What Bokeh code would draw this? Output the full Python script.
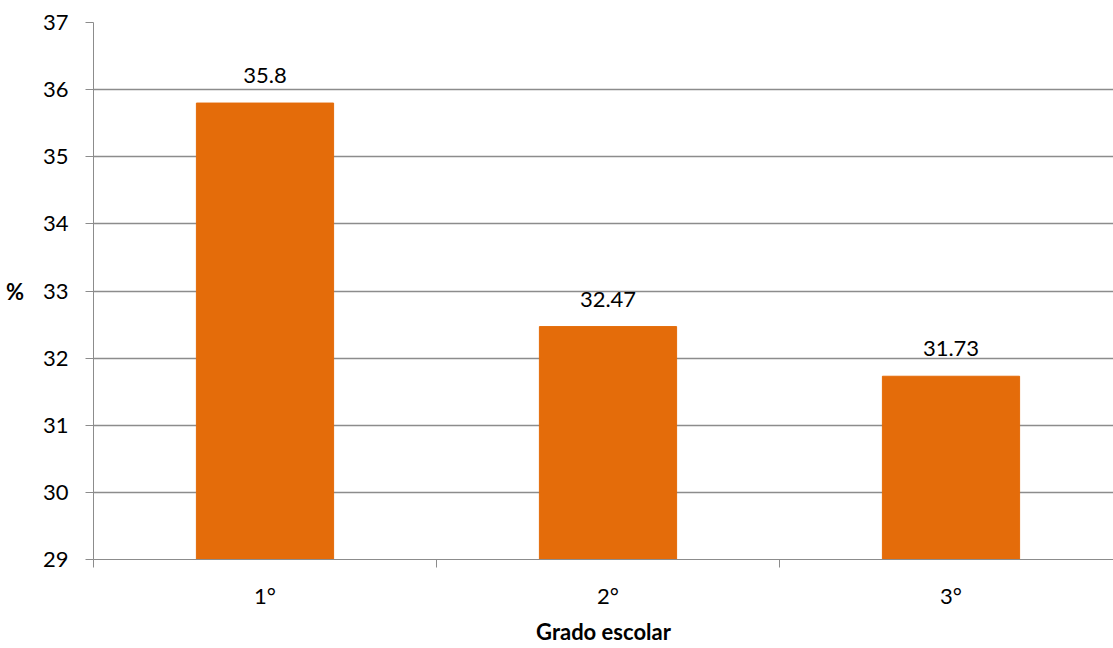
from bokeh.plotting import figure
from bokeh.models import Range1d, FixedTicker, ColumnDataSource, LabelSet
from bokeh.core.properties import value
from bokeh.embed import file_html
from bokeh.resources import INLINE

categories = ["1°", "2°", "3°"]
values = [35.8, 32.47, 31.73]
value_labels = ["35.8", "32.47", "31.73"]
y_ticks = [29, 30, 31, 32, 33, 34, 35, 36, 37]

FONT = "Lato"
FS = "22px"
GRID = "#8c8c8c"
BAR = "#e46c0a"

xpos = [i + 0.5 for i in range(len(categories))]
src = ColumnDataSource(dict(x=xpos, top=values, lab=value_labels))

p = figure(width=1113, height=648, output_backend="svg", toolbar_location=None,
           x_range=Range1d(0, 1020 / 343), y_range=Range1d(29, 37),
           min_border_left=93, min_border_top=22, min_border_bottom=89, min_border_right=0)
p.outline_line_color = None
p.background_fill_color = "white"
p.border_fill_color = "white"

p.vbar(x="x", top="top", bottom=29, width=0.4, color=BAR, source=src)
p.add_layout(LabelSet(x="x", y="top", text="lab", source=src, text_align="center",
                      text_baseline="alphabetic", y_offset=20, text_font=value(FONT),
                      text_font_size=value(FS), text_color="#000000"))

# y axis
p.yaxis.ticker = FixedTicker(ticks=y_ticks)
p.yaxis.axis_line_color = GRID
p.yaxis.major_tick_line_color = GRID
p.yaxis.major_tick_in = 0
p.yaxis.major_tick_out = 8
p.yaxis.minor_tick_line_color = None
p.yaxis.major_label_standoff = 17
p.yaxis.major_label_text_font = FONT
p.yaxis.major_label_text_font_size = FS
p.yaxis.major_label_text_color = "#000000"
p.yaxis.axis_label = "%"
p.yaxis.axis_label_text_font = FONT
p.yaxis.axis_label_text_font_style = "bold"
p.yaxis.axis_label_text_font_size = FS
p.yaxis.axis_label_text_color = "#000000"
p.yaxis.axis_label_standoff = 16
if "axis_label_orientation" in p.yaxis[0].properties():
    p.yaxis.axis_label_orientation = "horizontal"

# x axis
p.xaxis.ticker = FixedTicker(ticks=xpos, minor_ticks=[0, 1, 2, 3])
p.xaxis.major_label_overrides = {x: c for x, c in zip(xpos, categories)}
p.xaxis.axis_line_color = GRID
p.xaxis.major_tick_line_color = None
p.xaxis.major_tick_in = 0
p.xaxis.major_tick_out = 8
p.xaxis.minor_tick_line_color = GRID
p.xaxis.minor_tick_in = 0
p.xaxis.minor_tick_out = 8
p.xaxis.major_label_standoff = 14
p.xaxis.major_label_text_font = FONT
p.xaxis.major_label_text_font_size = FS
p.xaxis.major_label_text_color = "#000000"
p.xaxis.axis_label = "Grado escolar"
p.xaxis.axis_label_text_font = FONT
p.xaxis.axis_label_text_font_style = "bold"
p.xaxis.axis_label_text_font_size = FS
p.xaxis.axis_label_text_color = "#000000"
p.xaxis.axis_label_standoff = 6

p.xgrid.grid_line_color = None
p.ygrid.grid_line_color = GRID
p.ygrid.grid_line_width = 1.5

open("out.html", "w").write(file_html(p, INLINE))
